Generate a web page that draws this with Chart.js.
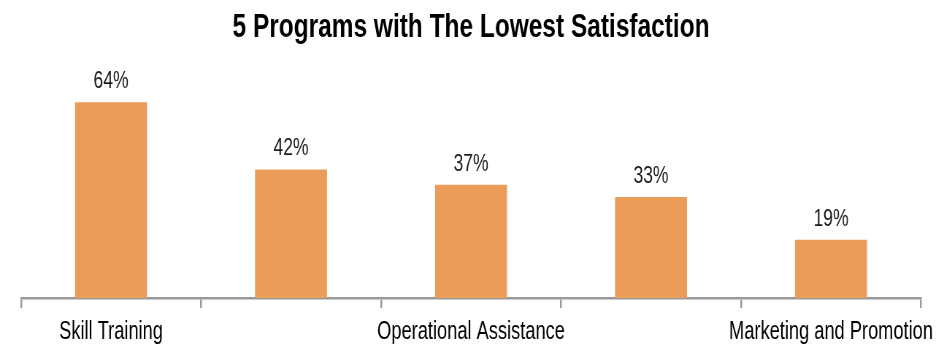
<!DOCTYPE html>
<html>
<head>
<meta charset="utf-8">
<script src="https://cdn.jsdelivr.net/npm/chart.js@4"></script>
<style>
  html, body { margin: 0; padding: 0; background: #ffffff; overflow: hidden; }
</style>
</head>
<body>
<canvas id="chart" width="1293" height="349" style="display:block;width:944px;height:349px;"></canvas>
<script>
// ---- data ----
const chartTitle = "5 Programs with The Lowest Satisfaction";
const categories = ["Skill Training", "", "Operational Assistance", "", "Marketing and Promotion"];
const satisfaction = [64, 42, 37, 33, 19];
const valueSuffix = "%";
const yMin = 0;
const yMax = 80;

// ---- styling ----
const FONT = '"Liberation Sans", Arial, sans-serif';
const BAR_COLOR = '#EB9C58';
const AXIS_COLOR = '#9a9a9a';

const valueLabels = {
  id: 'valueLabels',
  afterDatasetsDraw(chart) {
    const ctx = chart.ctx;
    const meta = chart.getDatasetMeta(0);
    ctx.save();
    ctx.font = '24px ' + FONT;
    ctx.fillStyle = '#1a1a1a';
    ctx.textAlign = 'center';
    ctx.textBaseline = 'alphabetic';
    meta.data.forEach((bar, i) => {
      ctx.fillText(satisfaction[i] + valueSuffix, bar.x, bar.y - 14);
    });
    ctx.restore();
  }
};

new Chart(document.getElementById('chart'), {
  type: 'bar',
  data: {
    labels: categories,
    datasets: [{
      data: satisfaction,
      backgroundColor: BAR_COLOR,
      borderWidth: 0,
      barPercentage: 0.4,
      categoryPercentage: 1.0
    }]
  },
  options: {
    responsive: false,
    animation: false,
    events: [],
    layout: { padding: { left: 28.8, right: 31.5, top: 0, bottom: 0 } },
    plugins: {
      legend: { display: false },
      tooltip: { enabled: false },
      title: {
        display: true,
        text: chartTitle,
        color: '#000000',
        font: { family: FONT, size: 33.5, weight: 'bold', lineHeight: 1.2 },
        padding: { top: 8, bottom: 5 }
      }
    },
    scales: {
      x: {
        offset: true,
        border: { display: true, color: AXIS_COLOR, width: 2.5 },
        grid: {
          display: true,
          offset: true,
          drawOnChartArea: false,
          drawTicks: true,
          tickLength: 10,
          color: AXIS_COLOR,
          lineWidth: 2.5
        },
        ticks: {
          autoSkip: false,
          maxRotation: 0,
          minRotation: 0,
          padding: 9,
          color: '#000000',
          font: { family: FONT, size: 25, lineHeight: 1.2 }
        },
        afterFit(scale) {
          scale.paddingLeft = 0;
          scale.paddingRight = 0;
          scale.height = 51;
        }
      },
      y: {
        display: false,
        min: yMin,
        max: yMax
      }
    }
  },
  plugins: [valueLabels]
});
</script>
</body>
</html>
